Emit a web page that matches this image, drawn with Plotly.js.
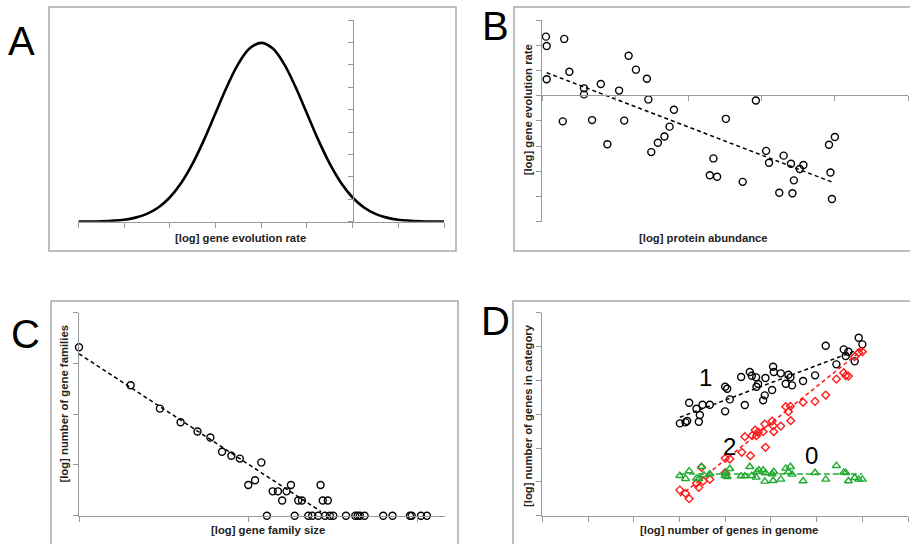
<!DOCTYPE html>
<html>
<head>
<meta charset="utf-8">
<script src="https://cdn.plot.ly/plotly-3.0.1.min.js"></script>
<style>html,body{margin:0;padding:0;background:#fff;}#chart{width:910px;height:544px;}</style>
</head>
<body>
<div id="chart"></div>
<script>
// Panel A: distribution of gene evolution rate
var aX = [-4, -3.5, -3, -2.75, -2.5, -2.25, -2, -1.75, -1.5, -1.25, -1, -0.75, -0.5, -0.25, 0,
          0.25, 0.5, 0.75, 1, 1.25, 1.5, 1.75, 2, 2.25, 2.5, 2.75, 3, 3.5, 4];
var aY = [0.0001, 0.0009, 0.0044, 0.0091, 0.0175, 0.0317, 0.054, 0.0863, 0.1295, 0.1826, 0.242, 0.3011, 0.3521, 0.3867, 0.3989,
          0.3867, 0.3521, 0.3011, 0.242, 0.1826, 0.1295, 0.0863, 0.054, 0.0317, 0.0175, 0.0091, 0.0044, 0.0009, 0.0001];

// Panel B: protein abundance vs evolution rate
var bX = [0.05, 0.06, 0.06, 0.30, 0.37, 0.28, 0.57, 0.57, 0.68, 0.80, 0.89, 1.05, 1.12, 1.18, 1.28, 1.43, 1.45, 1.49, 1.58, 1.67, 1.74,
          1.80, 2.29, 2.34, 2.39, 2.51, 2.74, 2.92, 3.06, 3.10, 3.24, 3.30, 3.40, 3.42, 3.44, 3.52, 3.57, 3.92, 3.94, 3.96, 4.00];
var bY = [2.34, 1.97, 0.65, 2.25, 0.95, -1.02, 0.29, 0.05, -0.97, 0.46, -1.93, 0.20, -0.99, 1.58, 1.03, 0.67, -0.15, -2.24, -1.87, -1.62, -1.23,
          -0.56, -3.16, -2.49, -3.22, -0.92, -3.42, -0.19, -2.19, -2.66, -3.85, -2.38, -2.70, -3.87, -3.36, -2.91, -2.75, -1.95, -3.05, -4.10, -1.64];
var bFitX = [0.06, 3.99];
var bFitY = [0.91, -3.46];

// Panel C: gene family size distribution
var cX = [0.00, 0.305, 0.478, 0.60, 0.70, 0.776, 0.845, 0.90, 0.95, 1.077, 1.00, 1.04, 1.144, 1.175, 1.20, 1.226, 1.252, 1.295, 1.317, 1.427, 1.44, 1.47,
          1.110, 1.274, 1.354, 1.378, 1.413, 1.453, 1.482, 1.502, 1.577, 1.632, 1.646, 1.659, 1.687, 1.797, 1.852, 1.955, 1.965, 2.020, 2.055];
var cY = [3.32, 2.57, 2.11, 1.84, 1.66, 1.54, 1.26, 1.18, 1.125, 1.05, 0.605, 0.70, 0.48, 0.48, 0.30, 0.48, 0.605, 0.30, 0.30, 0.605, 0.30, 0.30,
          0, 0, 0, 0, 0, 0, 0, 0, 0, 0, 0, 0, 0, 0, 0, 0, 0, 0, 0];
var cFitX = [0.0, 1.43];
var cFitY = [3.19, 0.08];

// Panel D: genes in category vs genes in genome
var d1X = [3.009, 3.133, 3.169, 3.213, 3.373, 3.424, 3.446, 3.505, 3.665, 4.000, 4.000, 4.044, 4.102, 4.350, 4.430, 4.539, 4.583, 4.678, 4.685, 4.721, 4.831,
           4.867, 4.882, 5.027, 5.049, 5.064, 5.217, 5.326, 5.384, 5.428, 5.464, 5.705, 5.967, 6.200, 6.434, 6.594, 6.638, 6.696, 6.834, 6.922, 7.002];
var d1Y = [2.729, 2.759, 2.798, 3.340, 3.163, 2.778, 2.975, 3.281, 3.281, 3.084, 3.813, 3.754, 3.438, 4.099, 3.271, 4.246, 4.138, 4.089, 3.813, 3.892, 3.409,
           3.557, 4.069, 3.714, 4.404, 4.246, 4.207, 3.901, 4.167, 4.089, 3.852, 3.980, 4.148, 5.025, 4.473, 4.916, 4.719, 4.847, 4.562, 5.261, 5.064];
var d1FitX = [3.01, 7.00];
var d1FitY = [2.91, 4.95];

var d2X = [3.009, 3.133, 3.213, 3.373, 3.424, 3.483, 3.519, 3.665, 4.000, 4.000, 4.102, 4.364, 4.430, 4.554, 4.590, 4.656, 4.685, 4.721, 4.831, 4.867,
           4.882, 5.027, 5.049, 5.064, 5.217, 5.326, 5.384, 5.428, 5.435, 5.705, 5.967, 6.200, 6.434, 6.594, 6.638, 6.696, 6.834, 6.922, 7.002];
var d2Y = [0.759, 0.660, 0.502, 0.956, 0.837, 1.429, 1.025, 1.074, 1.271, 1.695, 1.675, 1.872, 2.335, 1.773, 2.365, 2.532, 2.365, 2.473, 2.483, 2.709,
           2.020, 2.798, 2.660, 2.483, 2.650, 3.222, 3.074, 3.232, 2.808, 3.350, 3.379, 3.567, 4.039, 4.227, 4.138, 4.128, 4.700, 4.818, 4.847];
var d2FitX = [3.01, 7.02];
var d2FitY = [0.58, 4.92];

var d0X = [3.009, 3.133, 3.213, 3.373, 3.424, 3.483, 3.534, 3.665, 4.000, 4.000, 4.044, 4.102, 4.350, 4.430, 4.539, 4.583, 4.678, 4.699, 4.736, 4.831,
           4.867, 4.882, 5.027, 5.049, 5.064, 5.217, 5.326, 5.384, 5.428, 5.464, 5.705, 5.967, 6.200, 6.434, 6.594, 6.638, 6.696, 6.834, 6.922, 7.002];
var d0Y = [1.182, 1.094, 1.320, 1.103, 1.094, 1.448, 1.202, 1.232, 1.251, 1.182, 1.153, 1.389, 1.172, 1.172, 1.448, 1.182, 1.133, 1.300, 1.350, 1.350,
           1.015, 1.261, 1.232, 1.034, 1.300, 1.074, 1.399, 1.300, 1.448, 1.222, 1.025, 1.271, 1.074, 1.478, 1.281, 1.271, 1.025, 1.123, 1.074, 1.074];
var d0FitX = [3.01, 7.00];
var d0FitY = [1.23, 1.23];

var panelLetters = ['A', 'B', 'C', 'D'];
var xTitles = ['[log] gene evolution rate', '[log] protein abundance', '[log] gene family size', '[log] number of genes in genome'];
var yTitles = ['[log] gene evolution rate', '[log] number of gene families', '[log] number of genes in category'];
var groupLabels = ['1', '2', '0'];

var W = 910, H = 544;
function px(v) { return v / W; }
function py(v) { return 1 - v / H; }

var axisCol = '#999';
var RED = '#ff1a1a', GREEN = '#22aa33';

function openMarker(sym, col, size) {
  return {symbol: sym, size: size, color: col, line: {color: col, width: 1.4}};
}

var traces = [
  {x: aX, y: aY, xaxis: 'x', yaxis: 'y', mode: 'lines', line: {color: '#000', width: 2.6, shape: 'spline'}, hoverinfo: 'skip'},

  {x: bFitX, y: bFitY, xaxis: 'x2', yaxis: 'y2', mode: 'lines', line: {color: '#000', width: 1.5, dash: '4px,3px'}},
  {x: bX, y: bY, xaxis: 'x2', yaxis: 'y2', mode: 'markers', marker: openMarker('circle-open', '#000', 7), cliponaxis: false},

  {x: cFitX, y: cFitY, xaxis: 'x3', yaxis: 'y3', mode: 'lines', line: {color: '#000', width: 1.5, dash: '4px,3px'}},
  {x: cX, y: cY, xaxis: 'x3', yaxis: 'y3', mode: 'markers', marker: openMarker('circle-open', '#000', 7), cliponaxis: false},

  {x: d1FitX, y: d1FitY, xaxis: 'x4', yaxis: 'y4', mode: 'lines', line: {color: '#000', width: 1.5, dash: '4px,3px'}},
  {x: d1X, y: d1Y, xaxis: 'x4', yaxis: 'y4', mode: 'markers', marker: openMarker('circle-open', '#000', 7), cliponaxis: false},
  {x: d2FitX, y: d2FitY, xaxis: 'x4', yaxis: 'y4', mode: 'lines', line: {color: RED, width: 1.5, dash: '4px,3px'}},
  {x: d2X, y: d2Y, xaxis: 'x4', yaxis: 'y4', mode: 'markers', marker: openMarker('diamond-open', RED, 6), cliponaxis: false},
  {x: d0FitX, y: d0FitY, xaxis: 'x4', yaxis: 'y4', mode: 'lines', line: {color: GREEN, width: 1.5, dash: '6px,3px'}},
  {x: d0X, y: d0Y, xaxis: 'x4', yaxis: 'y4', mode: 'markers', marker: openMarker('triangle-up-open', GREEN, 7), cliponaxis: false}
];

function ax(extra) {
  var base = {showgrid: false, zeroline: false, showticklabels: false, showline: true, linecolor: axisCol, linewidth: 1,
              ticks: 'outside', ticklen: 5, tickwidth: 1, tickcolor: axisCol, fixedrange: true};
  for (var k in extra) base[k] = extra[k];
  return base;
}

var titleFont = {family: 'Liberation Sans, Arial, sans-serif', size: 11.3, color: '#222', weight: 'bold'};
var letterFont = {family: 'Liberation Sans, Arial, sans-serif', size: 40, color: '#000'};
var numFont = {family: 'Liberation Sans, Arial, sans-serif', size: 24, color: '#000'};

function ann(text, x, y, font, angle) {
  return {text: text, x: px(x), y: py(y), xref: 'paper', yref: 'paper', showarrow: false,
          xanchor: 'center', yanchor: 'middle', font: font, textangle: angle || 0};
}

var annotations = [
  ann(panelLetters[0], 21.7, 40.5, letterFont),
  ann(panelLetters[1], 495.8, 25.8, letterFont),
  ann(panelLetters[2], 25, 333.7, letterFont),
  ann(panelLetters[3], 495.8, 320.5, letterFont),
  ann('<b>' + xTitles[0] + '</b>', 240, 238, titleFont),
  ann('<b>' + xTitles[1] + '</b>', 703.3, 238.3, titleFont),
  ann('<b>' + xTitles[2] + '</b>', 268, 530, titleFont),
  ann('<b>' + xTitles[3] + '</b>', 728.7, 530, titleFont),
  ann('<b>' + yTitles[0] + '</b>', 528.3, 110, titleFont, -90),
  ann('<b>' + yTitles[1] + '</b>', 64.3, 403.3, titleFont, -90),
  ann('<b>' + yTitles[2] + '</b>', 527.3, 415.7, titleFont, -90),
  ann(groupLabels[0], 705, 377.3, numFont),
  ann(groupLabels[1], 729.3, 446.7, numFont),
  ann(groupLabels[2], 811.7, 455.7, numFont)
];

function box(x0, y0, x1, y1) {
  return {type: 'rect', xref: 'paper', yref: 'paper', x0: px(x0), x1: px(x1), y0: py(y1), y1: py(y0),
          line: {color: '#aaa', width: 1.5}, fillcolor: 'rgba(0,0,0,0)', layer: 'below'};
}

var layout = {
  width: W, height: H, margin: {l: 0, r: 0, t: 0, b: 0},
  paper_bgcolor: '#fff', plot_bgcolor: 'rgba(0,0,0,0)', showlegend: false,
  xaxis:  ax({domain: [px(78.3), px(444)], range: [-4, 4], tick0: -4, dtick: 1, anchor: 'y'}),
  yaxis:  ax({domain: [py(221.7), py(20)], range: [0, 0.45], tick0: 0, dtick: 0.05, anchor: 'free', position: px(352.7)}),
  xaxis2: ax({domain: [px(542.3), px(908)], range: [0, 5], tick0: 0, dtick: 1, anchor: 'free', position: py(95.3)}),
  yaxis2: ax({domain: [py(221.7), py(20)], range: [-5, 3], tick0: -5, dtick: 1, anchor: 'x2'}),
  xaxis3: ax({domain: [px(79), px(445)], range: [0, 2.162], tick0: 0, dtick: 1, anchor: 'y3'}),
  yaxis3: ax({domain: [py(515.7), py(312.7)], range: [0, 4], tick0: 0, dtick: 1, anchor: 'x3'}),
  xaxis4: ax({domain: [px(542.3), px(908)], range: [0, 8], tick0: 0, dtick: 1, anchor: 'y4'}),
  yaxis4: ax({domain: [py(515.7), py(312.7)], range: [0, 6], tick0: 0, dtick: 1, anchor: 'x4'}),
  annotations: annotations,
  shapes: [box(49, 7, 456, 251), box(514, 7, 915, 251), box(51, 301, 458, 550), box(513, 301, 915, 550)]
};

Plotly.newPlot('chart', traces, layout, {displayModeBar: false, staticPlot: true});
</script>
</body>
</html>
